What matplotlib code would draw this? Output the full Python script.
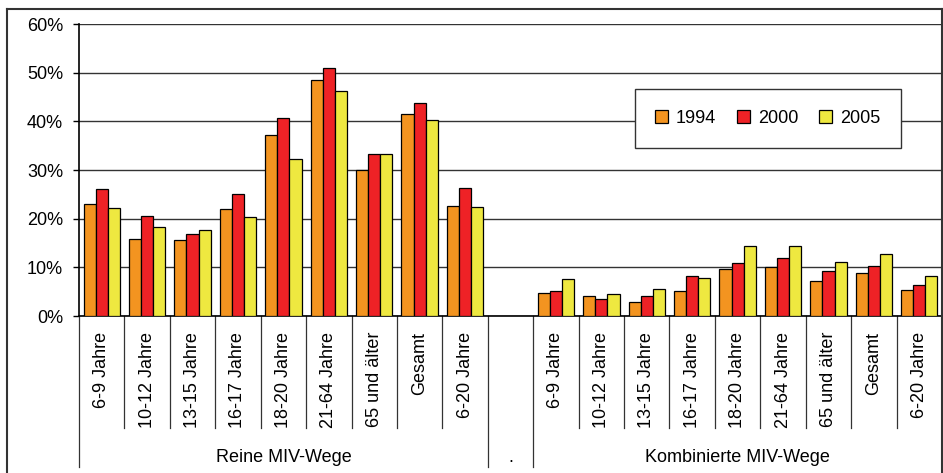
import numpy as np
import matplotlib
matplotlib.use('Agg')
import matplotlib.pyplot as plt
from matplotlib.lines import Line2D

plt.rcParams['font.family'] = ['Liberation Sans', 'DejaVu Sans']

# Altersgruppen und Anteile (%) je Jahr
ages = ['6-9 Jahre', '10-12 Jahre', '13-15 Jahre', '16-17 Jahre', '18-20 Jahre',
        '21-64 Jahre', '65 und älter', 'Gesamt', '6-20 Jahre']
groups = ['Reine MIV-Wege', '.', 'Kombinierte MIV-Wege']
years = ['1994', '2000', '2005']

rein_1994 = [23.0, 15.8, 15.6, 21.9, 37.2, 48.4, 29.9, 41.5, 22.7]
rein_2000 = [26.1, 20.6, 16.9, 25.1, 40.7, 51.0, 33.3, 43.8, 26.4]
rein_2005 = [22.2, 18.2, 17.7, 20.4, 32.2, 46.3, 33.3, 40.2, 22.4]
komb_1994 = [4.8, 4.2, 2.9, 5.1, 9.6, 10.1, 7.2, 8.8, 5.3]
komb_2000 = [5.1, 3.5, 4.2, 8.2, 10.9, 11.9, 9.3, 10.3, 6.4]
komb_2005 = [7.7, 4.5, 5.5, 7.9, 14.3, 14.3, 11.1, 12.7, 8.2]

colors = ['#F39420', '#EE2226', '#EEE840']

series = [rein_1994 + [np.nan] + komb_1994,
          rein_2000 + [np.nan] + komb_2000,
          rein_2005 + [np.nan] + komb_2005]
labels = ages + [''] + ages
x = np.arange(len(labels))

fig = plt.figure(figsize=(9.43, 4.73), dpi=100)
ax = fig.add_axes([79/943, 1 - 316/473, 863/943, 292/473])

w = 0.267
for i, (vals, c, yr) in enumerate(zip(series, colors, years)):
    ax.bar(x + (i - 1) * w, vals, width=w, color=c, edgecolor='black',
           linewidth=0.9, label=yr, zorder=3)

ax.set_xlim(-0.5, len(labels) - 0.5)
ax.set_ylim(0, 60)
ax.set_yticks(range(0, 61, 10))
ax.set_yticklabels([f'{v}%' for v in range(0, 61, 10)], fontsize=13)
ax.yaxis.grid(True, color='#333333', linewidth=1.0, zorder=0)
ax.tick_params(axis='y', direction='out', length=4.5, width=1, pad=7)
ax.set_xticks([])
for s in ['top', 'right']:
    ax.spines[s].set_visible(False)
ax.spines['left'].set_linewidth(1.2)
ax.spines['bottom'].set_linewidth(1.2)

# Beschriftung unter der Achse
trans = ax.get_xaxis_transform()
for xi, lab in zip(x, labels):
    if lab:
        ax.text(xi, -16/292, lab, rotation=90, ha='center', va='top',
                fontsize=13, transform=trans)

long_b = [0, 9, 10, 19]
for b in range(20):
    y_end = -151/292 if b in long_b else -112/292
    ax.add_line(Line2D([b - 0.5, b - 0.5], [0, y_end], color='#333333',
                       linewidth=0.9, transform=trans, clip_on=False))

ax.text(4, -141/292, groups[0], ha='center', va='center', fontsize=13, transform=trans)
ax.text(9, -141/292, groups[1], ha='center', va='center', fontsize=13, transform=trans)
ax.text(14, -141/292, groups[2], ha='center', va='center', fontsize=13, transform=trans)

leg = ax.legend(loc='center', bbox_to_anchor=(0.798, 0.676), ncol=3,
                fontsize=13, handlelength=0.7, handleheight=0.7,
                handletextpad=0.45, columnspacing=1.15, borderpad=1.15,
                fancybox=False, framealpha=1)
leg.get_frame().set_edgecolor('#333333')
leg.get_frame().set_linewidth(1.0)
leg.set_zorder(5)

# Rahmen des Diagramms
fx0, fx1, fy1 = 7/943, 941.5/943, 1 - 9/473
for xs, ys in [([fx0, fx0], [-0.1, fy1]), ([fx0, fx1], [fy1, fy1]), ([fx1, fx1], [fy1, -0.1])]:
    fig.add_artist(Line2D(xs, ys, color='#333333', linewidth=1.5))

fig.savefig('out.png', dpi=100)
